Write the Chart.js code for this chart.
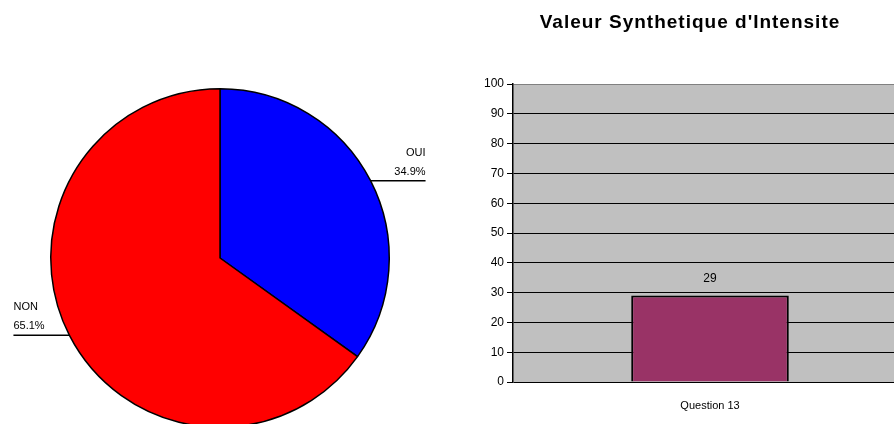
<!DOCTYPE html>
<html>
<head>
<meta charset="utf-8">
<script src="https://cdn.jsdelivr.net/npm/chart.js@4/dist/chart.umd.min.js"></script>
<style>
  html, body { margin: 0; padding: 0; background: #fff; }
  #page { position: relative; width: 894px; height: 424px; overflow: hidden; }
  #pieBox { position: absolute; left: 0; top: 0; width: 460px; height: 440px; }
  #barBox { position: absolute; left: 460px; top: 0; width: 460px; height: 424px; }
</style>
</head>
<body>
<div id="page">
  <div id="pieBox"><canvas id="pieChart"></canvas></div>
  <div id="barBox"><canvas id="barChart"></canvas></div>
</div>
<script>
// donnees
const pieLabels = ["OUI", "NON"];
const pieValues = [34.9, 65.1];
const pieColors = ["#0000FF", "#FF0000"];

const barLabels = ["Question 13"];
const barValues = [29];
const barTitle = "Valeur Synthetique d'Intensite";
const yMin = 0, yMax = 100, yStep = 10;

Chart.defaults.font.family = "'Liberation Sans', Arial, sans-serif";
Chart.defaults.color = "#000";
Chart.defaults.animation = false;

// etiquettes du camembert avec trait horizontal
const pieLabelPlugin = {
  id: "pieLabels",
  afterDraw(chart) {
    const ctx = chart.ctx;
    const meta = chart.getDatasetMeta(0);
    ctx.save();
    ctx.font = "11px 'Liberation Sans', Arial, sans-serif";
    ctx.fillStyle = "#000";
    ctx.strokeStyle = "#000";
    ctx.lineWidth = 1.5;
    meta.data.forEach((arc, i) => {
      const mid = (arc.startAngle + arc.endAngle) / 2;
      const x0 = arc.x + Math.cos(mid) * arc.outerRadius;
      const y0 = arc.y + Math.sin(mid) * arc.outerRadius;
      const right = Math.cos(mid) >= 0;
      const x1 = right ? x0 + 55 : x0 - 56;
      ctx.beginPath();
      ctx.moveTo(x0, y0);
      ctx.lineTo(x1, y0);
      ctx.stroke();
      ctx.textAlign = right ? "right" : "left";
      ctx.textBaseline = "middle";
      const pct = pieValues[i].toFixed(1) + "%";
      ctx.fillText(pct, x1, y0 - 9);
      ctx.fillText(pieLabels[i], x1, y0 - 28);
    });
    ctx.restore();
  }
};

new Chart(document.getElementById("pieChart"), {
  type: "pie",
  data: {
    labels: pieLabels,
    datasets: [{
      data: pieValues,
      backgroundColor: pieColors,
      borderColor: "#000",
      borderWidth: 1.5
    }]
  },
  options: {
    responsive: true,
    maintainAspectRatio: false,
    layout: { padding: { left: 50, right: 70, top: 88, bottom: 12 } },
    plugins: { legend: { display: false }, tooltip: { enabled: false } }
  },
  plugins: [pieLabelPlugin]
});

// fond gris, titre espace et valeur au-dessus de la barre
const barPlugin = {
  id: "barExtras",
  beforeDraw(chart) {
    const a = chart.chartArea;
    const ctx = chart.ctx;
    ctx.save();
    ctx.fillStyle = "#C0C0C0";
    ctx.fillRect(a.left, a.top, a.right - a.left, a.bottom - a.top);
    ctx.restore();
  },
  afterDraw(chart) {
    const ctx = chart.ctx;
    ctx.save();
    ctx.font = "bold 19px 'Liberation Sans', Arial, sans-serif";
    ctx.letterSpacing = "1px";
    ctx.fillStyle = "#000";
    ctx.textAlign = "center";
    ctx.textBaseline = "middle";
    ctx.fillText(barTitle, chart.width / 2, 23);
    ctx.restore();
  },
  afterDatasetsDraw(chart) {
    const ctx = chart.ctx;
    const meta = chart.getDatasetMeta(0);
    ctx.save();
    ctx.font = "12px 'Liberation Sans', Arial, sans-serif";
    ctx.fillStyle = "#000";
    ctx.textAlign = "center";
    ctx.textBaseline = "middle";
    meta.data.forEach((bar, i) => {
      ctx.fillText(String(barValues[i]), bar.x, bar.y - 17);
    });
    ctx.restore();
  }
};

new Chart(document.getElementById("barChart"), {
  type: "bar",
  data: {
    labels: barLabels,
    datasets: [{
      data: barValues,
      backgroundColor: "#993366",
      borderColor: "#000",
      borderWidth: 2,
      barPercentage: 0.4,
      categoryPercentage: 1
    }]
  },
  options: {
    responsive: true,
    maintainAspectRatio: false,
    layout: { padding: { left: 0, right: 13, top: 84, bottom: 0 } },
    plugins: {
      legend: { display: false },
      tooltip: { enabled: false },
      title: { display: false }
    },
    scales: {
      x: {
        grid: { display: false },
        border: { display: false },
        ticks: { font: { size: 11 }, padding: 9 },
        afterFit: (s) => { s.height = 42; }
      },
      y: {
        min: yMin,
        max: yMax,
        ticks: { stepSize: yStep, font: { size: 12 }, padding: 3 },
        grid: {
          color: (c) => (c.tick && c.tick.value === yMax ? "#808080" : "#000"),
          lineWidth: 1,
          tickLength: 6,
          tickColor: "#000"
        },
        border: { color: "#000", width: 1.5 },
        afterFit: (s) => { s.width = 53; }
      }
    }
  },
  plugins: [barPlugin]
});
</script>
</body>
</html>
